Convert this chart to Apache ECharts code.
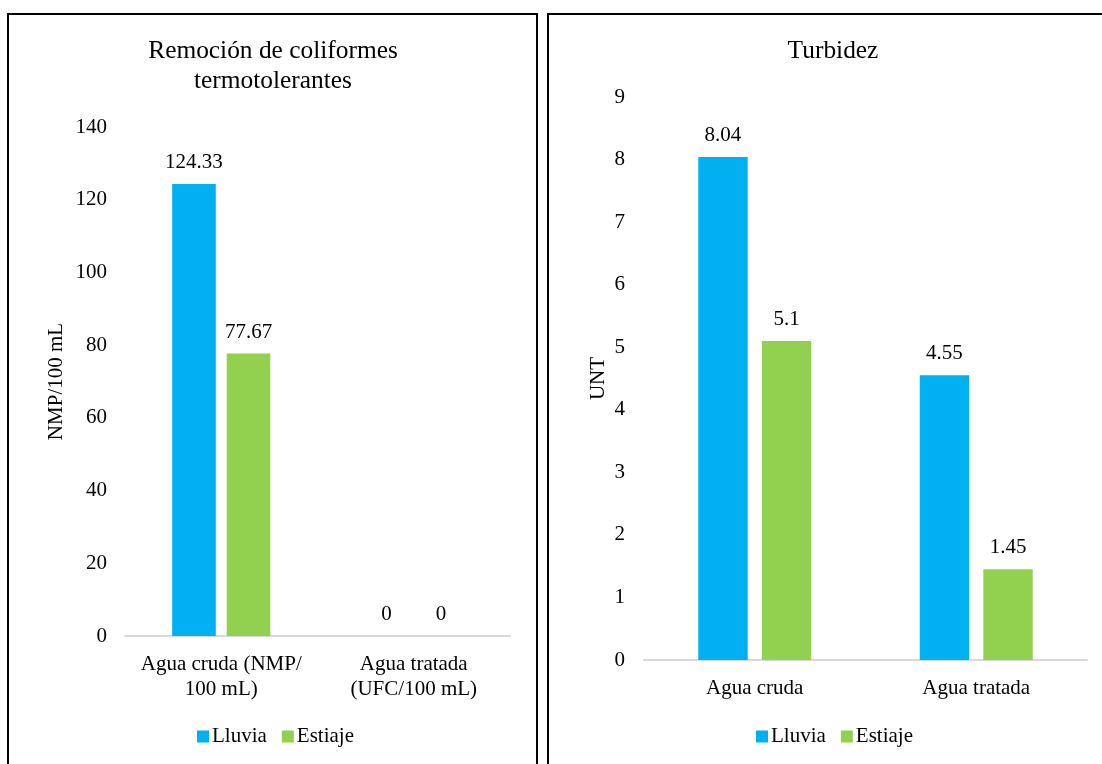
<!DOCTYPE html>
<html><head><meta charset="utf-8">
<script src="https://cdn.jsdelivr.net/npm/echarts@6/dist/echarts.min.js"></script>
<style>html,body{margin:0;padding:0;background:#fff}#c{width:1102px;height:764px}</style>
</head><body><div id="c"></div>
<script>
const seriesNames = ['Lluvia', 'Estiaje'];
const leftTitle = 'Remoción de coliformes\ntermotolerantes';
const leftCategories = ['Agua cruda (NMP/\n100 mL)', 'Agua tratada\n(UFC/100 mL)'];
const leftLluvia = [124.33, 0];
const leftEstiaje = [77.67, 0];
const leftAxisName = 'NMP/100 mL';
const rightTitle = 'Turbidez';
const rightCategories = ['Agua cruda', 'Agua tratada'];
const rightLluvia = [8.04, 4.55];
const rightEstiaje = [5.1, 1.45];
const rightAxisName = 'UNT';
const colors = ['#00B0F0', '#92D050'];

const FONT = '"Liberation Serif", "Times New Roman", serif';
const txt = {color: '#000', fontFamily: FONT, fontSize: 21};

const chart = echarts.init(document.getElementById('c'), null, {renderer: 'canvas'});
function barSeries(name, data, color, idx) {
  return {
    name: name, type: 'bar', xAxisIndex: idx, yAxisIndex: idx, data: data,
    itemStyle: {color: color},
    barCategoryGap: '49%', barGap: idx === 0 ? '25%' : '28.6%',
    label: {show: true, position: 'top', distance: 11, ...txt},
    emphasis: {disabled: true}
  };
}
function catAxis(idx, cats) {
  return {
    type: 'category', gridIndex: idx, data: cats,
    axisLine: {lineStyle: {color: '#D9D9D9', width: 2}},
    axisTick: {show: false},
    axisLabel: {...txt, margin: 16, lineHeight: 25, interval: 0}
  };
}
function legend(left) {
  return {data: seriesNames, left: left, top: 726, padding: 0, itemWidth: 12, itemHeight: 12, itemGap: 15,
    icon: 'rect', textStyle: {...txt, padding: [0, 0, 0, -2]}, selectedMode: false};
}
chart.setOption({
  animation: false,
  title: [
    {text: leftTitle, left: 273, top: 36, padding: 0, textAlign: 'center',
     textStyle: {color: '#000', fontFamily: FONT, fontSize: 25.4, fontWeight: 'normal', lineHeight: 30, align: 'center'}},
    {text: rightTitle, left: 833, top: 36, padding: 0, textAlign: 'center',
     textStyle: {color: '#000', fontFamily: FONT, fontSize: 25.4, fontWeight: 'normal', lineHeight: 30}}
  ],
  legend: [legend(197), legend(756)],
  grid: [
    {left: 125, right: 592, top: 127, bottom: 128},
    {left: 644, right: 15, top: 97, bottom: 104}
  ],
  xAxis: [catAxis(0, leftCategories), catAxis(1, rightCategories)],
  yAxis: [
    {type: 'value', gridIndex: 0, min: 0, max: 140, interval: 20,
     name: leftAxisName, nameLocation: 'middle', nameGap: 58, nameTextStyle: txt,
     axisLine: {show: false}, axisTick: {show: false}, splitLine: {show: false},
     axisLabel: {...txt, margin: 18}},
    {type: 'value', gridIndex: 1, min: 0, max: 9, interval: 1,
     name: rightAxisName, nameLocation: 'middle', nameGap: 35, nameTextStyle: txt,
     axisLine: {show: false}, axisTick: {show: false}, splitLine: {show: false},
     axisLabel: {...txt, margin: 19}}
  ],
  series: [
    barSeries(seriesNames[0], leftLluvia, colors[0], 0),
    barSeries(seriesNames[1], leftEstiaje, colors[1], 0),
    barSeries(seriesNames[0], rightLluvia, colors[0], 1),
    barSeries(seriesNames[1], rightEstiaje, colors[1], 1)
  ],
  color: colors,
  graphic: [
    {type: 'rect', shape: {x: 8, y: 14, width: 529, height: 800}, style: {fill: 'none', stroke: '#000', lineWidth: 2}, silent: true},
    {type: 'rect', shape: {x: 548, y: 14, width: 600, height: 800}, style: {fill: 'none', stroke: '#000', lineWidth: 2}, silent: true}
  ]
});
</script></body></html>
